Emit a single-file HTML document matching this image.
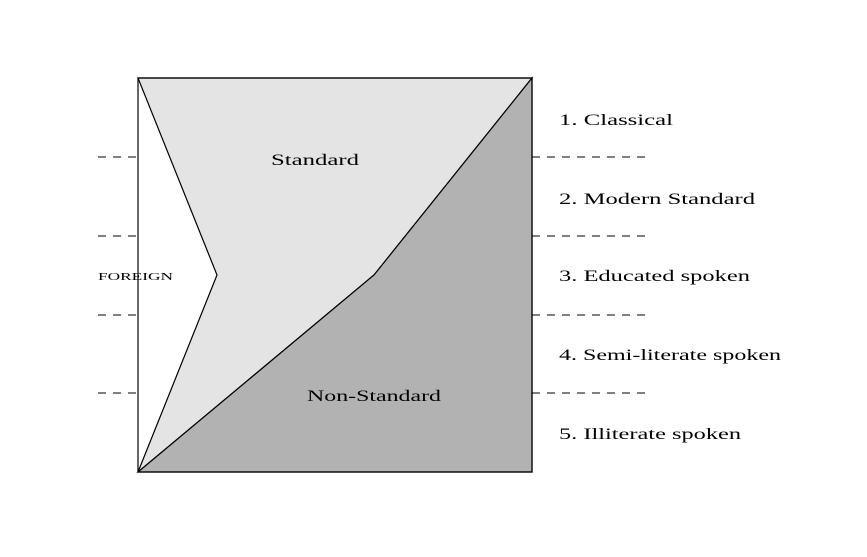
<!DOCTYPE html>
<html><head><meta charset="utf-8"><style>html,body{margin:0;padding:0;background:#fff}</style></head>
<body>
<svg width="867" height="552" viewBox="0 0 867 552" xmlns="http://www.w3.org/2000/svg" font-family="Liberation Serif, serif" font-size="16" fill="#000">
<rect width="867" height="552" fill="#fff"/>
<polygon points="138,78 532,78 374,275 138,472 217,275" fill="#e4e4e4" stroke="#000" stroke-width="1.2"/>
<polygon points="532,78 532,472 138,472 374,275" fill="#b2b2b2" stroke="#000" stroke-width="1.2"/>
<rect x="138" y="78" width="394" height="394" fill="none" stroke="#000" stroke-width="1.2"/>
<g stroke="#000" stroke-width="1" stroke-dasharray="8,7">
<line x1="98" y1="157" x2="138" y2="157"/><line x1="98" y1="236" x2="138" y2="236"/>
<line x1="98" y1="315" x2="138" y2="315"/><line x1="98" y1="393" x2="138" y2="393"/>
<line x1="532" y1="157" x2="652" y2="157"/><line x1="532" y1="236" x2="652" y2="236"/>
<line x1="532" y1="315" x2="652" y2="315"/><line x1="532" y1="393" x2="652" y2="393"/>
</g>
<text x="271" y="165" textLength="88" lengthAdjust="spacingAndGlyphs">Standard</text>
<text x="307" y="401" textLength="134" lengthAdjust="spacingAndGlyphs">Non-Standard</text>
<text x="98" y="280" font-size="11" textLength="75" lengthAdjust="spacingAndGlyphs">FOREIGN</text>
<text x="559" y="125" textLength="114" lengthAdjust="spacingAndGlyphs">1. Classical</text>
<text x="559" y="204" textLength="196" lengthAdjust="spacingAndGlyphs">2. Modern Standard</text>
<text x="559" y="281" textLength="191" lengthAdjust="spacingAndGlyphs">3. Educated spoken</text>
<text x="559" y="360" textLength="222" lengthAdjust="spacingAndGlyphs">4. Semi-literate spoken</text>
<text x="559" y="439" textLength="182" lengthAdjust="spacingAndGlyphs">5. Illiterate spoken</text>
</svg>
</body></html>
